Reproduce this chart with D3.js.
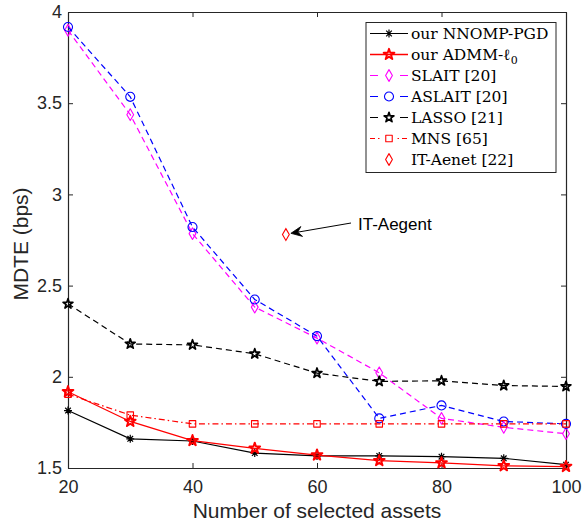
<!DOCTYPE html>
<html>
<head>
<meta charset="utf-8">
<script src="https://cdn.jsdelivr.net/npm/d3@7"></script>
<style>
  html, body { margin: 0; padding: 0; background: #fff; }
  svg { display: block; }
</style>
</head>
<body>
<svg id="chart" width="583" height="527"></svg>
<script>
// Number of selected assets
const assets = [20, 30, 40, 50, 60, 70, 80, 90, 100];

// MDTE (bps) per method
const nnompPgd = [1.815, 1.660, 1.648, 1.582, 1.566, 1.566, 1.562, 1.553, 1.518];
const admmL0   = [1.918, 1.755, 1.650, 1.608, 1.571, 1.540, 1.528, 1.512, 1.508];
const slait    = [3.900, 3.437, 2.785, 2.382, 2.212, 2.022, 1.772, 1.723, 1.688];
const aslait   = [3.918, 3.535, 2.821, 2.424, 2.223, 1.772, 1.843, 1.755, 1.742];
const lasso    = [2.400, 2.180, 2.175, 2.126, 2.020, 1.975, 1.978, 1.952, 1.947];
const mns      = [1.905, 1.790, 1.742, 1.742, 1.742, 1.742, 1.742, 1.742, 1.742];

// Single IT-Aenet result
const itAenetX = [55];
const itAenetY = [2.78];

const xTicks = [20, 40, 60, 80, 100];
const yTicks = [1.5, 2, 2.5, 3, 3.5, 4];
const xDomain = [20, 100];
const yDomain = [1.5, 4];

const legendLabels = ["our NNOMP-PGD", "our ADMM-ℓ0", "SLAIT [20]", "ASLAIT [20]", "LASSO [21]", "MNS [65]", "IT-Aenet [22]"];

const svg = d3.select("#chart");
const m = { left: 68, right: 566, top: 12, bottom: 468 };
const x = d3.scaleLinear().domain(xDomain).range([m.left, m.right]);
const y = d3.scaleLinear().domain(yDomain).range([m.bottom, m.top]);

const axisColor = "#262626";
const sansFont = "'Liberation Sans', Arial, Helvetica, sans-serif";
const serifFont = "'DejaVu Serif', serif";

// MATLAB-style "*" marker: plus and cross overlaid
const asteriskSymbol = {
  draw(ctx, size) {
    const r = Math.sqrt(size) * 0.6;
    const d = r * Math.SQRT1_2;
    ctx.moveTo(-r, 0); ctx.lineTo(r, 0);
    ctx.moveTo(0, -r); ctx.lineTo(0, r);
    ctx.moveTo(-d, -d); ctx.lineTo(d, d);
    ctx.moveTo(-d, d); ctx.lineTo(d, -d);
  }
};

// legendDash: short legend sample shows a dash on each side of the marker
const series = [
  { name: legendLabels[0], values: nnompPgd, color: "#000000", dash: null, legendDash: null, sym: asteriskSymbol, size: 44, fill: "none", sw: 1.2, msw: 1.2 },
  { name: legendLabels[1], values: admmL0, color: "#ff0000", dash: null, legendDash: null, sym: d3.symbolStar, size: 36, fill: "none", sw: 1.3, msw: 1.9 },
  { name: legendLabels[2], values: slait, color: "#ff00ff", dash: "6,4", legendDash: "8,22,8", sym: d3.symbolDiamond, size: 40, fill: "none", sw: 1.2, msw: 1.1 },
  { name: legendLabels[3], values: aslait, color: "#0000ff", dash: "6,4", legendDash: "8,22,8", sym: d3.symbolCircle, size: 64, fill: "none", sw: 1.2, msw: 1.1 },
  { name: legendLabels[4], values: lasso, color: "#000000", dash: "6,4", legendDash: "8,22,8", sym: d3.symbolStar, size: 30, fill: "none", sw: 1.2, msw: 1.7 },
  { name: legendLabels[5], values: mns, color: "#ff0000", dash: "6,3,1.5,3", legendDash: "5,3,1.5,18,1.5,3,5", sym: d3.symbolSquare, size: 42, fill: "none", sw: 1.2, msw: 1.1 }
];

// Axes (ticks pointing inward, box on all four sides)
const gx = svg.append("g").attr("transform", `translate(0,${m.bottom})`)
  .call(d3.axisBottom(x).tickValues(xTicks).tickSizeInner(-5).tickSizeOuter(0).tickPadding(12).tickFormat(d3.format("d")));
const gy = svg.append("g").attr("transform", `translate(${m.left},0)`)
  .call(d3.axisLeft(y).tickValues(yTicks).tickSizeInner(-5).tickSizeOuter(0).tickPadding(6).tickFormat(d => String(d)));
const gxTop = svg.append("g").attr("transform", `translate(0,${m.top})`)
  .call(d3.axisTop(x).tickValues(xTicks).tickSizeInner(-5).tickSizeOuter(0).tickFormat(""));
const gyRight = svg.append("g").attr("transform", `translate(${m.right},0)`)
  .call(d3.axisRight(y).tickValues(yTicks).tickSizeInner(-5).tickSizeOuter(0).tickFormat(""));

[gx, gy, gxTop, gyRight].forEach(g => {
  g.select(".domain").attr("stroke", axisColor).attr("stroke-width", 1.2);
  g.selectAll(".tick line").attr("stroke", axisColor).attr("stroke-width", 1);
  g.selectAll(".tick text").attr("fill", axisColor).style("font-family", sansFont).style("font-size", "18px");
});
gx.selectAll(".tick text").attr("dy", "0.71em");

// Axis titles
svg.append("text")
  .attr("x", (m.left + m.right) / 2).attr("y", 518)
  .attr("text-anchor", "middle").attr("fill", axisColor)
  .style("font-family", sansFont).style("font-size", "21px")
  .text("Number of selected assets");
svg.append("text")
  .attr("transform", `translate(28,${244}) rotate(-90)`)
  .attr("text-anchor", "middle").attr("fill", axisColor)
  .style("font-family", sansFont).style("font-size", "21px")
  .text("MDTE (bps)");

// Series lines and markers
const plot = svg.append("g");
series.forEach(s => {
  const pts = assets.map((a, i) => [a, s.values[i]]);
  plot.append("path")
    .datum(pts)
    .attr("fill", "none")
    .attr("stroke", s.color)
    .attr("stroke-width", s.sw)
    .attr("stroke-dasharray", s.dash)
    .attr("d", d3.line().x(d => x(d[0])).y(d => y(d[1])));
  plot.selectAll(null)
    .data(pts)
    .join("path")
    .attr("transform", d => `translate(${x(d[0])},${y(d[1])})`)
    .attr("d", d3.symbol(s.sym, s.size))
    .attr("fill", s.fill)
    .attr("stroke", s.color)
    .attr("stroke-width", s.msw)
    .attr("stroke-linejoin", "round");
});

// IT-Aenet single point
plot.selectAll(null)
  .data(itAenetX.map((v, i) => [v, itAenetY[i]]))
  .join("path")
  .attr("transform", d => `translate(${x(d[0])},${y(d[1])})`)
  .attr("d", d3.symbol(d3.symbolDiamond, 40))
  .attr("fill", "none")
  .attr("stroke", "#ff0000")
  .attr("stroke-width", 1.1);

// Annotation arrow pointing at the IT-Aenet point
const tipX = x(itAenetX[0]) + 5, tipY = y(itAenetY[0]) - 1.2;
const tailX = 351, tailY = 223;
const ang = Math.atan2(tailY - tipY, tailX - tipX);
const hl = 11, hw = 5, notch = 7;
const ux = Math.cos(ang), uy = Math.sin(ang), px = -uy, py = ux;
svg.append("line")
  .attr("x1", tailX).attr("y1", tailY).attr("x2", tipX + ux * notch).attr("y2", tipY + uy * notch)
  .attr("stroke", "#000").attr("stroke-width", 1);
svg.append("path")
  .attr("d", `M${tipX},${tipY}L${tipX + ux * hl + px * hw},${tipY + uy * hl + py * hw}L${tipX + ux * notch},${tipY + uy * notch}L${tipX + ux * hl - px * hw},${tipY + uy * hl - py * hw}Z`)
  .attr("fill", "#000").attr("stroke", "#000").attr("stroke-width", 0.8).attr("stroke-linejoin", "miter");
svg.append("text")
  .attr("x", 358).attr("y", 229.5)
  .attr("fill", "#000")
  .style("font-family", sansFont).style("font-size", "17px")
  .text("IT-Aegent");

// Legend
const lg = svg.append("g");
lg.append("rect")
  .attr("x", 366).attr("y", 22.5).attr("width", 190).attr("height", 150)
  .attr("fill", "#fff").attr("stroke", "#262626").attr("stroke-width", 1);

const legendItems = series.map(s => ({ ...s, line: true }))
  .concat([{ name: legendLabels[6], color: "#ff0000", sym: d3.symbolDiamond, size: 40, fill: "none", msw: 1.1, line: false }]);

legendItems.forEach((s, i) => {
  const cy = 33.5 + i * 21;
  const row = lg.append("g");
  if (s.line) {
    row.append("line")
      .attr("x1", 370).attr("x2", 408).attr("y1", cy).attr("y2", cy)
      .attr("stroke", s.color).attr("stroke-width", s.sw)
      .attr("stroke-dasharray", s.legendDash);
  }
  row.append("path")
    .attr("transform", `translate(389,${cy})`)
    .attr("d", d3.symbol(s.sym, s.size))
    .attr("fill", s.fill)
    .attr("stroke", s.color)
    .attr("stroke-width", s.msw)
    .attr("stroke-linejoin", "round");
  const t = row.append("text")
    .attr("x", 411).attr("y", cy + 5.5)
    .attr("fill", "#000")
    .style("font-family", serifFont).style("font-size", "15.5px");
  if (s.name.endsWith("ℓ0")) {
    t.append("tspan").text(s.name.slice(0, -1));
    t.append("tspan").attr("dy", 4).style("font-size", "11px").text("0");
  } else {
    t.text(s.name);
  }
});
</script>
</body>
</html>
